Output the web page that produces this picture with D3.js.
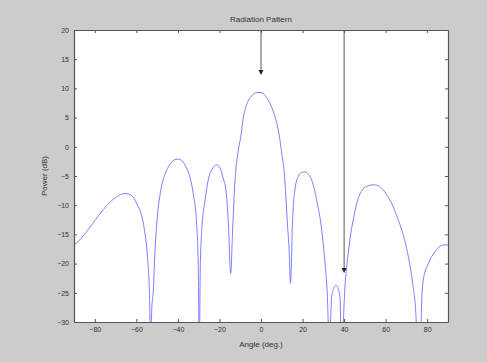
<!DOCTYPE html>
<html>
<head>
<meta charset="utf-8">
<script src="https://cdn.jsdelivr.net/npm/d3@7"></script>
<style>
  body { margin: 0; background: #cccccc; }
  svg { display: block; font-family: "Liberation Sans", Arial, sans-serif; }
</style>
</head>
<body>
<svg id="chart" width="487" height="362"></svg>
<script>
const W = 487
const H = 362
const M = { left: 74, top: 30, right: 39, bottom: 40 }

// angle (deg.) and power (dB)
const angle = [-90, -88, -85, -82, -79, -76, -73, -70, -67, -65, -63, -61, -59.5, -58, -56, -54.5, -53.6, -53.2,
  -52.6, -51.8, -51, -50, -48, -46, -44, -42, -40, -38, -36, -34, -32.6, -31, -30.2, -29.7,
  -29.2, -28.5, -26.9, -25.4, -23.5, -21.3, -19.5, -18.3, -16.9, -15.7, -14.6, -13.6, -12.5,
  -11, -9.8, -8.5, -6.5, -4.5, -2, 0, 2, 3.5, 5, 6.7, 8, 9.1, 10, 11.1, 11.8, 12.6, 13.6, 14.2,
  15.2, 16.3, 17.9, 19.5, 21.2, 23, 24.4, 26.8, 29.2, 30.8, 31.9, 32.9, 34, 35, 36.1, 37.2, 38,
  38.8, 40.4, 42, 43.6, 44.4, 46, 47.5, 49.2, 51.5, 54, 56, 58.1, 60.5, 62.9, 65.3, 67.7, 70.9,
  73, 74.6, 75.5, 76.6, 77.3, 78.1, 80.5, 83.7, 87.7, 90]
const power = [-16.8, -16.2, -15.0, -13.6, -12.2, -10.8, -9.6, -8.7, -8.1, -8.0, -8.2, -8.9, -10.0, -11.1, -14.5, -19.5, -26, -35,
  -28, -24.5, -17.7, -12.5, -7, -4.5, -3.1, -2.3, -2.1, -2.4, -3.5, -5.5, -8.0, -13.1, -20.5, -35,
  -20, -14.2, -9.1, -5.7, -3.8, -3.1, -3.8, -5.3, -7.4, -13.1, -21.7, -13.7, -5.7,
  -0.8, 1.6, 5.0, 7.6, 8.7, 9.3, 9.3, 8.8, 8.0, 6.9, 5.2, 3.4, 1.2, -1.2, -4.0, -7.5, -12.5, -18.2, -23.4,
  -12.5, -7.4, -5.1, -4.4, -4.3, -4.8, -5.7, -9.1, -14.2, -19.9, -25.1, -35, -25.7, -24.3, -23.7, -24.4, -25.7,
  -35, -24, -18.2, -14, -12.5, -9.8, -8.2, -7.2, -6.7, -6.5, -6.6, -7.1, -8.2, -9.7, -11.8, -14.2, -18.8,
  -23.4, -29.1, -38, -38, -26.8, -22.8, -20, -18, -16.8, -16.8]

const xTicks = [-80, -60, -40, -20, 0, 20, 40, 60, 80]
const yTicks = [-30, -25, -20, -15, -10, -5, 0, 5, 10, 15, 20]

// arrows: x position and tip power
const arrowX = [0, 40]
const arrowTip = [12.3, -21.6]

const svg = d3.select('#chart')
const iw = W - M.left - M.right
const ih = H - M.top - M.bottom

const x = d3.scaleLinear().domain([-90, 90]).range([0, iw])
const y = d3.scaleLinear().domain([-30, 20]).range([ih, 0])

const g = svg.append('g').attr('transform', `translate(${M.left},${M.top})`)

g.append('rect')
  .attr('width', iw)
  .attr('height', ih)
  .attr('fill', '#ffffff')

g.append('clipPath').attr('id', 'clip')
  .append('rect').attr('width', iw).attr('height', ih)

const line = d3.line()
  .curve(d3.curveMonotoneX)
  .x(d => x(d[0]))
  .y(d => y(d[1]))

g.append('path')
  .datum(angle.map((a, i) => [a, power[i]]))
  .attr('clip-path', 'url(#clip)')
  .attr('fill', 'none')
  .attr('stroke', '#7e7eff')
  .attr('stroke-width', 1)
  .attr('d', line)

// arrows
arrowX.forEach((ax, i) => {
  const px = x(ax)
  const tip = y(arrowTip[i])
  g.append('line')
    .attr('x1', px).attr('x2', px)
    .attr('y1', 0).attr('y2', tip - 3)
    .attr('stroke', '#555')
    .attr('stroke-width', 1)
  g.append('path')
    .attr('d', `M${px - 2.5},${tip - 5}L${px + 2.5},${tip - 5}L${px},${tip}Z`)
    .attr('fill', '#222')
})

const styleAxis = sel => {
  sel.select('.domain').attr('stroke', '#555').attr('stroke-width', 1.2)
  sel.selectAll('.tick line').attr('stroke', '#555')
  sel.selectAll('.tick text').attr('fill', '#333').attr('font-size', 7)
}

g.append('g')
  .attr('transform', `translate(0,${ih})`)
  .call(d3.axisBottom(x).tickValues(xTicks).tickSizeInner(-3).tickSizeOuter(0).tickPadding(5))
  .call(styleAxis)

g.append('g')
  .call(d3.axisTop(x).tickValues(xTicks).tickSizeInner(-3).tickSizeOuter(0).tickFormat(''))
  .call(styleAxis)

g.append('g')
  .call(d3.axisLeft(y).tickValues(yTicks).tickSizeInner(-3).tickSizeOuter(0).tickPadding(5))
  .call(styleAxis)

g.append('g')
  .attr('transform', `translate(${iw},0)`)
  .call(d3.axisRight(y).tickValues(yTicks).tickSizeInner(-3).tickSizeOuter(0).tickFormat(''))
  .call(styleAxis)

svg.append('text')
  .attr('x', M.left + iw / 2)
  .attr('y', 22)
  .attr('text-anchor', 'middle')
  .attr('font-size', 8)
  .attr('fill', '#333')
  .text('Radiation Pattern')

svg.append('text')
  .attr('x', M.left + iw / 2)
  .attr('y', 347)
  .attr('text-anchor', 'middle')
  .attr('font-size', 8)
  .attr('fill', '#333')
  .text('Angle (deg.)')

svg.append('text')
  .attr('transform', `translate(47,${M.top + ih / 2}) rotate(-90)`)
  .attr('text-anchor', 'middle')
  .attr('font-size', 8)
  .attr('fill', '#333')
  .text('Power (dB)')
</script>
</body>
</html>
